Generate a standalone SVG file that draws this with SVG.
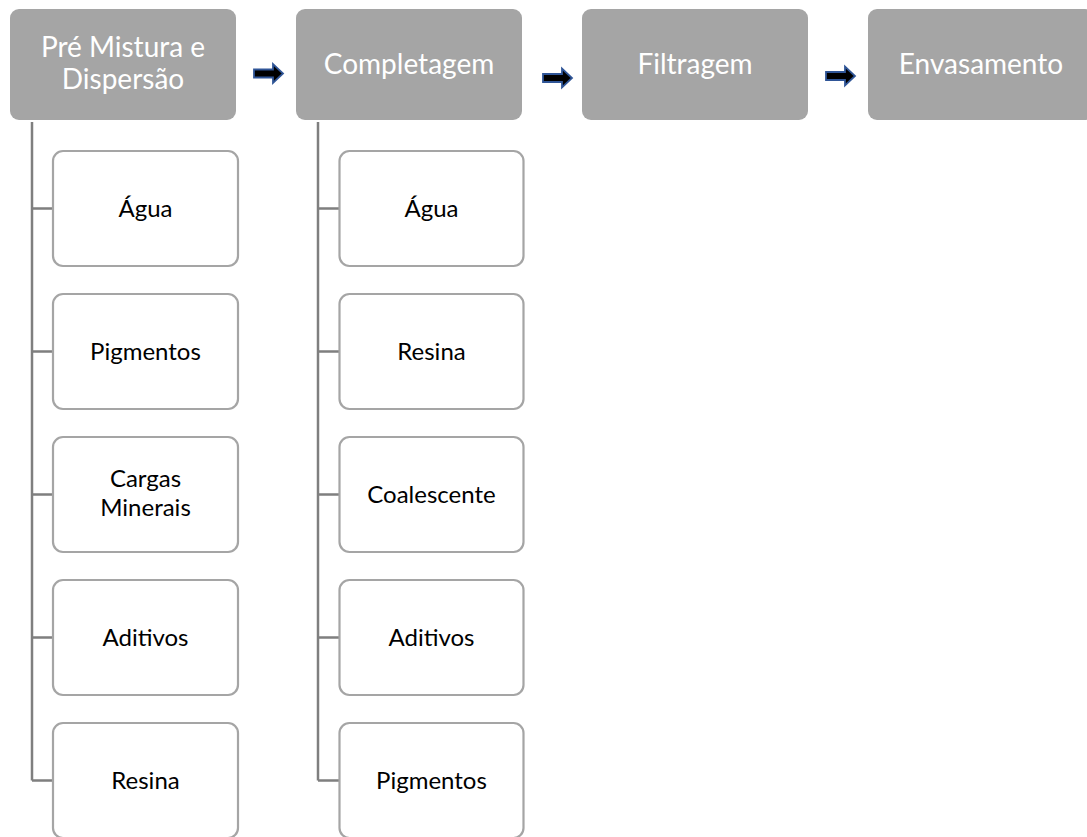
<svg xmlns="http://www.w3.org/2000/svg" width="1087" height="837" viewBox="0 0 1087 837">
<style>
.top{fill:#A5A5A5;}
.toptxt{font-family:Lato,"Open Sans",sans-serif;font-size:28px;fill:#FFFFFF;text-anchor:middle;}
.child{fill:#FFFFFF;stroke:#A5A5A5;stroke-width:2.2;}
.ctxt{font-family:Lato,"Open Sans",sans-serif;font-size:24px;fill:#000000;text-anchor:middle;}
.conn{fill:none;stroke:#7F7F7F;stroke-width:2.5;}
.arrow{fill:#000000;stroke:#2F5597;stroke-width:1.8;stroke-linejoin:miter;}
</style>
<defs>
<path id="arr" class="arrow" d="M0,-4 L19,-4 L19,-9.5 L29,0 L19,9.5 L19,4 L0,4 Z"/>
</defs>
<rect width="1087" height="837" fill="#FFFFFF"/>
<g id="connectors">
<path class="conn" d="M32,122 V780.5 M32,208.5 H53 M32,351.5 H53 M32,494.5 H53 M32,637.5 H53 M32,780.5 H53"/>
<path class="conn" d="M318,122 V780.5 M318,208.5 H339.5 M318,351.5 H339.5 M318,494.5 H339.5 M318,637.5 H339.5 M318,780.5 H339.5"/>
<use href="#arr" x="254" y="73.5"/>
<use href="#arr" x="543" y="78"/>
<use href="#arr" x="826" y="76"/>
</g>
<g id="n-premistura"><rect class="top" x="10" y="9" width="226" height="111" rx="9"/><text class="toptxt" x="123" y="57">Pré Mistura e</text><text class="toptxt" x="123" y="89">Dispersão</text></g>
<g id="n-completagem"><rect class="top" x="296" y="9" width="226" height="111" rx="9"/><text class="toptxt" x="409" y="74">Completagem</text></g>
<g id="n-filtragem"><rect class="top" x="582" y="9" width="226" height="111" rx="9"/><text class="toptxt" x="695" y="74">Filtragem</text></g>
<g id="n-envasamento"><rect class="top" x="868" y="9" width="226" height="111" rx="9"/><text class="toptxt" x="981" y="74">Envasamento</text></g>
<g id="c1-agua"><rect class="child" x="53" y="151" width="185" height="115" rx="10"/><text class="ctxt" x="145.5" y="217">Água</text></g>
<g id="c1-pigmentos"><rect class="child" x="53" y="294" width="185" height="115" rx="10"/><text class="ctxt" x="145.5" y="360">Pigmentos</text></g>
<g id="c1-cargas"><rect class="child" x="53" y="437" width="185" height="115" rx="10"/><text class="ctxt" x="145.5" y="487">Cargas</text><text class="ctxt" x="145.5" y="516">Minerais</text></g>
<g id="c1-aditivos"><rect class="child" x="53" y="580" width="185" height="115" rx="10"/><text class="ctxt" x="145.5" y="646">Aditivos</text></g>
<g id="c1-resina"><rect class="child" x="53" y="723" width="185" height="115" rx="10"/><text class="ctxt" x="145.5" y="789">Resina</text></g>
<g id="c2-agua"><rect class="child" x="339.5" y="151" width="184" height="115" rx="10"/><text class="ctxt" x="431.5" y="217">Água</text></g>
<g id="c2-resina"><rect class="child" x="339.5" y="294" width="184" height="115" rx="10"/><text class="ctxt" x="431.5" y="360">Resina</text></g>
<g id="c2-coalescente"><rect class="child" x="339.5" y="437" width="184" height="115" rx="10"/><text class="ctxt" x="431.5" y="503">Coalescente</text></g>
<g id="c2-aditivos"><rect class="child" x="339.5" y="580" width="184" height="115" rx="10"/><text class="ctxt" x="431.5" y="646">Aditivos</text></g>
<g id="c2-pigmentos"><rect class="child" x="339.5" y="723" width="184" height="115" rx="10"/><text class="ctxt" x="431.5" y="789">Pigmentos</text></g>
</svg>
